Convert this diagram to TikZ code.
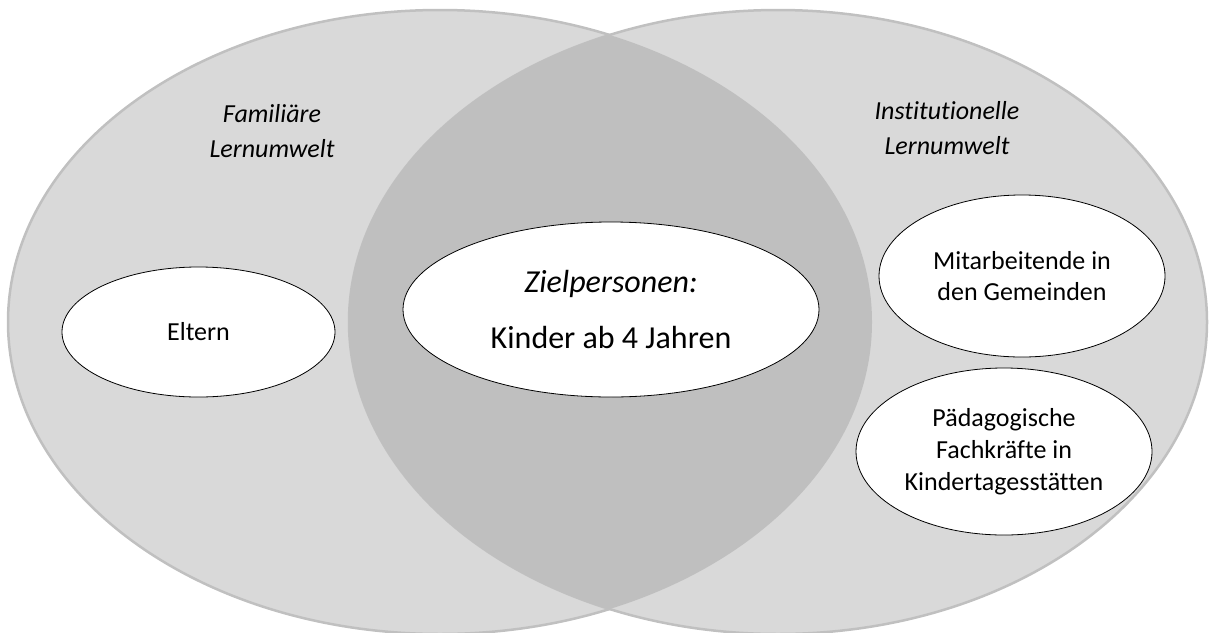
\documentclass[tikz,border=0pt]{standalone}
\usepackage{fontspec}
\setmainfont{Carlito}[Ligatures=NoCommon]
\usepackage{tikz}
\usetikzlibrary{shapes.geometric}
\definecolor{envfill}{HTML}{D9D9D9}
\definecolor{envline}{HTML}{C0C0C0}
\definecolor{lensfill}{HTML}{BFBFBF}

\begin{document}
\begin{tikzpicture}[x=1pt,y=-1pt,
  outer/.style={ellipse,fill=envfill,draw=envline,line width=2.5pt,inner sep=0pt},
  bubble/.style={ellipse,fill=white,draw=black,line width=0.8pt,inner sep=0pt,align=center,
    font=\fontsize{26}{31}\selectfont},
  head/.style={align=center,inner sep=0pt,font=\fontsize{26}{35}\selectfont\itshape}]
  \useasboundingbox (0,0) rectangle (1209,632);
  % the two learning environments
  \node[outer,minimum width=864pt,minimum height=624pt] (fam) at (440,322) {};
  \node[outer,minimum width=858pt,minimum height=624pt] (inst) at (778,322) {};
  % overlap of both
  \begin{scope}
    \clip (440,322) ellipse [x radius=432pt,y radius=312pt];
    \fill[lensfill] (778,322) ellipse [x radius=429pt,y radius=312pt];
  \end{scope}
  \node[head] (famtxt) at (272,131) {Familiäre\\Lernumwelt};
  \node[head] (insttxt) at (947,128) {Institutionelle\\Lernumwelt};
  % target group in the middle
  \node[bubble,minimum width=416pt,minimum height=175pt,font=\fontsize{32}{39}\selectfont] (ziel) at (611,309.5)
    {\textit{Zielpersonen:}\\[17pt]Kinder ab 4 Jahren};
  \node[bubble,minimum width=273pt,minimum height=130pt] (eltern) at (198.5,332) {Eltern};
  \node[bubble,minimum width=286pt,minimum height=162pt] (mitarb) at (1022,276) {Mitarbeitende in\\den Gemeinden};
  \node[bubble,minimum width=296pt,minimum height=167pt,font=\fontsize{26}{32}\selectfont] (paed) at (1004,451.5)
    {Pädagogische\\Fachkräfte in\\Kindertagesstätten};
\end{tikzpicture}
\end{document}
